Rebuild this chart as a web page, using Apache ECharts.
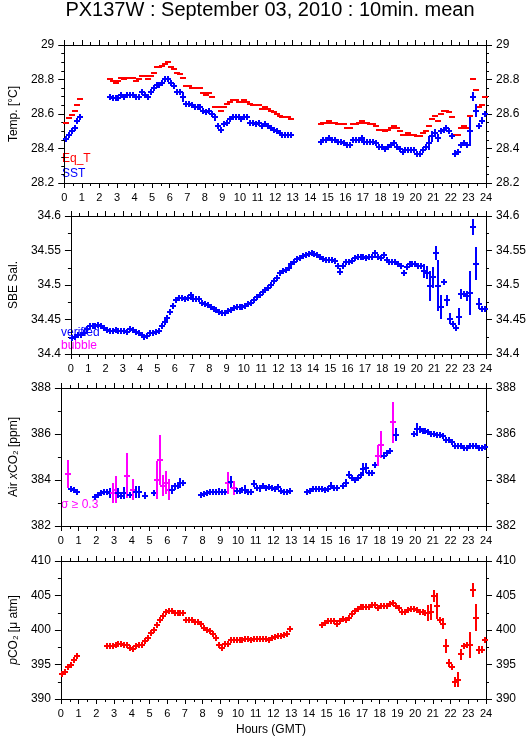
<!DOCTYPE html>
<html>
<head>
<meta charset="utf-8">
<script src="https://cdn.jsdelivr.net/npm/echarts@6/dist/echarts.min.js"></script>
<style>
  html, body { margin: 0; background: #fff; }
  #main { width: 529px; height: 739px; }
</style>
</head>
<body>
<div id="main"></div>
<script>
// 10-minute bins, 6 per hour, 144 per day (bin centres in hours GMT)
const binHours = Array.from({length: 144}, (_, i) => (i + 0.5) / 6);

// equilibrator temperature [°C]
const eqT = [
  28.545, 28.575, 28.595, 28.62, 28.655, 28.685,
  null, null, null, null, null, null,
  null, null, null, 28.80, 28.79, 28.78,
  28.79, 28.81, 28.80, 28.81, 28.81, 28.81,
  28.79, 28.80, 28.82, 28.82, 28.80, 28.82,
  28.84, 28.87, 28.87, 28.88, 28.89, 28.90,
  28.87, 28.86, 28.84, 28.83, 28.81, 28.76,
  28.76, 28.75, 28.75, 28.75, 28.75, 28.72,
  28.71, 28.72, 28.70, 28.64, 28.64, 28.62,
  28.64, 28.66, 28.67, 28.68, 28.68, 28.67,
  28.67, 28.68, 28.67, 28.66, 28.65, 28.65,
  28.65, 28.63, 28.64, 28.63, 28.62, 28.61,
  28.60, 28.59, 28.58, 28.58, 28.58, 28.57,
  null, null, null, null, null, null,
  null, null, null, 28.54, 28.55, 28.55,
  28.56, 28.55, 28.55, 28.54, 28.54, 28.54,
  28.52, 28.52, 28.54, 28.54, 28.55, 28.56,
  28.55, 28.55, 28.54, 28.54, 28.53, 28.51,
  28.51, 28.50, 28.51, 28.52, 28.53, 28.52,
  28.50, 28.48, 28.48, 28.49, 28.48, 28.48,
  28.47, 28.47, 28.49, 28.50, 28.53, 28.57,
  28.59, 28.56, 28.60, 28.62, 28.62, 28.61,
  28.58, 28.48, 28.48, 28.52, 28.53, 28.52,
  28.59, 28.80, 28.74, 28.64, 28.65, 28.70
];

// sea surface temperature [°C]
const sst = [
  28.455, 28.48, 28.50, 28.52, 28.56, 28.585,
  null, null, null, null, null, null,
  null, null, null, 28.70, 28.69, 28.69,
  28.69, 28.71, 28.70, 28.71, 28.71, 28.71,
  28.70, 28.70, 28.73, 28.71, 28.70, 28.73,
  28.75, 28.77, 28.77, 28.78, 28.80, 28.80,
  28.78, 28.76, 28.73, 28.73, 28.70, 28.66,
  28.66, 28.65, 28.64, 28.64, 28.64, 28.62,
  28.61, 28.62, 28.60, 28.58, 28.53, 28.51,
  28.54, 28.55, 28.57, 28.58, 28.58, 28.58,
  28.57, 28.58, 28.58, 28.55, 28.55, 28.54,
  28.55, 28.53, 28.54, 28.53, 28.52, 28.51,
  28.50, 28.49, 28.48, 28.48, 28.48, 28.48,
  null, null, null, null, null, null,
  null, null, null, 28.44, 28.45, 28.45,
  28.46, 28.45, 28.45, 28.44, 28.44, 28.43,
  28.42, 28.42, 28.45, 28.45, 28.45, 28.46,
  28.44, 28.44, 28.44, 28.44, 28.43, 28.41,
  28.41, 28.40, 28.41, 28.42, 28.43, 28.41,
  28.40, 28.38, 28.39, 28.39, 28.39, 28.39,
  28.37, 28.37, 28.39, 28.41, 28.43, 28.47,
  28.49, 28.46, 28.50, 28.51, 28.52, 28.50,
  28.47, 28.37, 28.38, 28.42, 28.43, 28.42,
  28.50, 28.70, 28.62, 28.53, 28.56, 28.60
];
// standard deviations that show as long bars (bin index -> sd)
const sstSd = {40: 0.03, 51: 0.02, 52: 0.015, 124: 0.04, 125: 0.03, 126: 0.025,
  127: 0.025, 133: 0.02, 138: 0.085, 139: 0.025, 140: 0.04, 142: 0.02};

// SBE salinity
const sal = [
  34.423, 34.424, 34.428, 34.427, 34.430, 34.436,
  34.440, 34.441, 34.441, 34.442, 34.441, 34.437,
  34.435, 34.433, 34.433, 34.435, 34.434, 34.433,
  34.433, 34.432, 34.436, 34.435, 34.432, 34.430,
  34.427, 34.425, 34.426, 34.430, 34.431, 34.432,
  34.434, 34.440, 34.446, 34.452, 34.461, 34.470,
  34.478, 34.481, 34.481, 34.480, 34.481, 34.485,
  34.480, 34.480, 34.479, 34.474, 34.473, 34.471,
  34.468, 34.465, 34.464, 34.461, 34.460, 34.459,
  34.462, 34.464, 34.466, 34.468, 34.468, 34.468,
  34.470, 34.473, 34.474, 34.478, 34.482, 34.485,
  34.490, 34.493, 34.496, 34.500, 34.506, 34.510,
  34.517, 34.521, 34.522, 34.525, 34.530, 34.534,
  34.537, 34.539, 34.542, 34.544, 34.545, 34.546,
  34.545, 34.544, 34.540, 34.537, 34.536, 34.536,
  34.536, 34.535, 34.528, 34.519, 34.527, 34.533,
  34.534, 34.535, 34.539, 34.540, 34.540, 34.540,
  34.539, 34.540, 34.541, 34.546, 34.541, 34.539,
  34.544, 34.536, 34.533, 34.533, 34.534, 34.530,
  34.528, 34.518, 34.526, 34.530, 34.530, 34.530,
  34.528, 34.528, 34.520, 34.518, 34.499, 34.511,
  34.546, 34.499, 34.468, 34.505, 34.478, 34.451,
  34.443, 34.438, 34.454, 34.487, 34.487, 34.484,
  34.488, 34.584, 34.531, 34.473, 34.465, 34.465
];
const salSd = {92: 0.004, 93: 0.005, 115: 0.004, 122: 0.01, 123: 0.009, 124: 0.022,
  125: 0.015, 126: 0.01, 127: 0.037, 128: 0.018, 130: 0.008, 131: 0.008, 134: 0.012,
  135: 0.007, 137: 0.007, 138: 0.032, 139: 0.012, 140: 0.024, 141: 0.008};

// atmospheric xCO2 [ppm]
const airCO2 = [
  null, null, 384.26, 383.61, 383.55, 383.50,
  null, null, null, null, null, 383.25,
  383.35, 383.43, 383.48, 383.50, 383.43, 383.43,
  383.58, 383.43, 383.32, 383.43, 384.19, 383.36,
  383.58, 383.49, 383.49, null, 383.32, null,
  null, 383.43, 384.00, 384.88, 383.75, 383.87,
  383.58, 383.58, 383.72, 383.72, 383.87, 383.87,
  null, null, null, null, null, 383.36,
  383.40, 383.43, 383.46, 383.48, 383.48, 383.50,
  383.49, 383.48, 383.87, 383.91, 383.65, 383.54,
  383.54, 383.58, 383.58, 383.46, 383.46, 383.84,
  383.65, 383.65, 383.72, 383.65, 383.70, 383.65,
  383.61, 383.70, 383.54, 383.50, 383.50, 383.54,
  null, null, null, null, null, 383.46,
  383.54, 383.61, 383.62, 383.62, 383.61, 383.58,
  383.62, 383.75, 383.67, 383.67, null, 383.75,
  383.87, 384.23, 384.09, 384.01, 384.09, 384.23,
  384.49, 384.52, 384.30, 384.30, 384.67, 385.06,
  385.54, 385.06, 385.17, 385.25, 386.51, 385.97,
  null, null, null, null, null, 386.00,
  386.20, 386.20, 386.14, 386.14, 386.07, 386.00,
  385.99, 385.97, 385.94, 385.93, 385.75, 385.72,
  385.64, 385.49, 385.49, 385.46, 385.39, 385.39,
  385.49, 385.49, 385.49, 385.39, 385.39, 385.43
];
const airSd = {2: 0.6, 16: 0.22, 17: 0.43, 18: 0.58, 19: 0.22, 21: 0.27, 22: 0.98,
  24: 0.45, 25: 0.27, 26: 0.27, 28: 0.15, 32: 0.82, 33: 1.08, 34: 0.46, 35: 0.5,
  36: 0.45, 37: 0.2, 38: 0.15, 40: 0.2, 53: 0.15, 56: 0.47, 57: 0.27, 58: 0.31,
  62: 0.2, 65: 0.15, 67: 0.15, 72: 0.15, 91: 0.15, 96: 0.17, 97: 0.15, 98: 0.13,
  102: 0.25, 103: 0.23, 107: 0.46, 108: 0.58, 109: 0.15, 112: 0.88, 113: 0.28,
  120: 0.28, 121: 0.15};
const sdLimit = 0.3;

// seawater pCO2 [µatm]
const pco2 = [
  393.57, 393.90, 394.70, 394.88, 395.60, 396.23,
  null, null, null, null, null, null,
  null, null, null, 397.68, 397.63, 397.73,
  397.87, 398.00, 397.92, 397.87, 397.78, 397.44,
  397.30, 397.63, 397.87, 397.78, 398.36, 398.90,
  399.56, 400.05, 400.77, 401.50, 402.03, 402.60,
  402.75, 402.75, 402.46, 402.46, 402.46, 402.46,
  401.50, 401.50, 401.40, 401.11, 401.11, 400.90,
  400.34, 400.05, 399.90, 399.47, 398.90, 397.87,
  397.44, 397.92, 398.00, 398.50, 398.50, 398.50,
  398.50, 398.50, 398.65, 398.65, 398.50, 398.65,
  398.70, 398.70, 398.70, 398.70, 398.60, 398.84,
  398.99, 399.08, 399.08, 399.23, 399.47, 400.10,
  null, null, null, null, null, null,
  null, null, null, null, 400.77, 401.06,
  401.26, 401.26, 401.26, 400.92, 401.26, 401.60,
  401.50, 401.80, 402.37, 402.70, 403.09, 403.33,
  403.33, 403.33, 403.33, 403.67, 403.67, 403.24,
  403.53, 403.53, 403.53, 403.72, 403.91, 403.53,
  403.14, 402.66, 402.66, 402.85, 403.00, 403.00,
  402.85, 402.56, 402.56, 402.46, 402.46, 402.60,
  404.93, 403.43, 401.40, 400.92, 397.63, 395.22,
  394.64, 392.46, 392.80, 396.47, 397.63, 397.87,
  397.87, 405.75, 401.80, 397.05, 397.15, 398.50
];
const pco2Sd = {124: 1.2, 125: 1.1, 126: 0.85, 127: 1.9, 129: 0.8, 130: 1.0, 131: 0.55,
  132: 0.5, 133: 0.7, 134: 1.1, 135: 0.8, 137: 0.4, 138: 1.9, 139: 1.0, 140: 2.0,
  141: 0.6, 142: 0.5};

// axis ranges and tick steps
const hourTicks = [0, 24, 1];
const tempAxis = [28.2, 29, 0.2, 4];
const salAxis = [34.4, 34.6, 0.05, 2];
const airAxis = [382, 388, 2, 2];
const pco2Axis = [390, 410, 5, 2];

const RED = '#ff0000', BLUE = '#0000ff', MAGENTA = '#ff00ff';
const FONT = '"Liberation Sans", Arial, sans-serif';
const gridTops = [45, 216, 388, 561];

function toPoints(values, sd) {
  const out = [];
  values.forEach((v, i) => {
    if (v != null) out.push([binHours[i], v, (sd && sd[i]) || 0]);
  });
  return out;
}

function marker(colorOf, vertical) {
  return function (params, api) {
    const t = api.value(0), v = api.value(1), sd = api.value(2);
    const c = api.coord([t, v]);
    const top = api.coord([t, v + sd])[1];
    const half = Math.max(c[1] - top, 3);
    const x = Math.round(c[0]), y = Math.round(c[1]);
    const col = colorOf(sd);
    const kids = [{
      type: 'line',
      shape: {x1: x - 3, y1: y, x2: x + 3, y2: y},
      style: {stroke: col, lineWidth: 2}
    }];
    if (vertical) {
      kids.push({
        type: 'line',
        shape: {x1: x, y1: Math.round(c[1] - half), x2: x, y2: Math.round(c[1] + half)},
        style: {stroke: col, lineWidth: 2}
      });
    }
    return {type: 'group', children: kids};
  };
}

function xAx(i, pos) {
  return {
    type: 'value', gridIndex: i, position: pos,
    min: hourTicks[0], max: hourTicks[1], interval: hourTicks[2],
    axisLine: {onZero: false, lineStyle: {color: '#000', width: 1}},
    axisTick: {length: 5, lineStyle: {color: '#000'}},
    minorTick: {show: true, splitNumber: 2, length: 3, lineStyle: {color: '#000'}},
    splitLine: {show: false},
    axisLabel: {show: pos === 'bottom', fontSize: 11, color: '#000', margin: 9, fontFamily: FONT}
  };
}

function yAx(i, pos, rng, name) {
  return {
    type: 'value', gridIndex: i, position: pos,
    min: rng[0], max: rng[1], interval: rng[2],
    axisLine: {show: true, onZero: false, lineStyle: {color: '#000', width: 1}},
    axisTick: {show: true, length: 6, lineStyle: {color: '#000'}},
    minorTick: {show: true, splitNumber: rng[3], length: 3, lineStyle: {color: '#000'}},
    splitLine: {show: false},
    axisLabel: {fontSize: 12, color: '#000', margin: 10, fontFamily: FONT},
    name: pos === 'left' ? name : '',
    nameLocation: 'middle', nameGap: 35,
    nameTextStyle: {
      fontSize: 12, color: '#000', fontFamily: FONT,
      rich: {i: {fontSize: 12, fontStyle: 'italic', color: '#000', fontFamily: FONT}}
    }
  };
}

const ranges = [tempAxis, salAxis, airAxis, pco2Axis];
const names = ['Temp. [°C]', 'SBE Sal.', 'Air {i|x}CO₂ [ppm]', '{i|p}CO₂ [μ atm]'];

const xAxes = [], yAxes = [];
gridTops.forEach((t, i) => {
  xAxes.push(xAx(i, 'bottom'), xAx(i, 'top'));
  yAxes.push(yAx(i, 'left', ranges[i], names[i]), yAx(i, 'right', ranges[i], names[i]));
});

function customSeries(panel, data, colorOf, vertical) {
  return {
    type: 'custom', xAxisIndex: panel * 2, yAxisIndex: panel * 2,
    encode: {x: 0, y: 1}, silent: true, data: data,
    renderItem: marker(colorOf, vertical)
  };
}

function label(text, x, y, color, size, align) {
  return {
    type: 'text', x: x, y: y, silent: true,
    style: {text: text, fill: color, fontSize: size, fontFamily: FONT,
      align: align || 'left', verticalAlign: 'top'}
  };
}

const chart = echarts.init(document.getElementById('main'));
chart.setOption({
  animation: false,
  backgroundColor: '#fff',
  grid: gridTops.map(t => ({left: 58, width: 428, top: t, height: 138})),
  xAxis: xAxes,
  yAxis: yAxes,
  graphic: [
    label('PX137W : September 03, 2010 : 10min. mean', 270, 0, '#000', 20, 'center'),
    label('Eq_T', 62, 153, RED, 12),
    label('SST', 62, 168, BLUE, 12),
    label('verified', 61, 327, BLUE, 12),
    label('bubble', 61, 340, MAGENTA, 12),
    label('σ ≥ 0.3', 61, 499, MAGENTA, 12),
    label('Hours (GMT)', 271, 724, '#000', 12, 'center')
  ],
  series: [
    customSeries(0, toPoints(eqT), () => RED, false),
    customSeries(0, toPoints(sst, sstSd), () => BLUE, true),
    customSeries(1, toPoints(sal, salSd), () => BLUE, true),
    customSeries(2, toPoints(airCO2, airSd), sd => (sd >= sdLimit ? MAGENTA : BLUE), true),
    customSeries(3, toPoints(pco2, pco2Sd), () => RED, true)
  ]
});
</script>
</body>
</html>
